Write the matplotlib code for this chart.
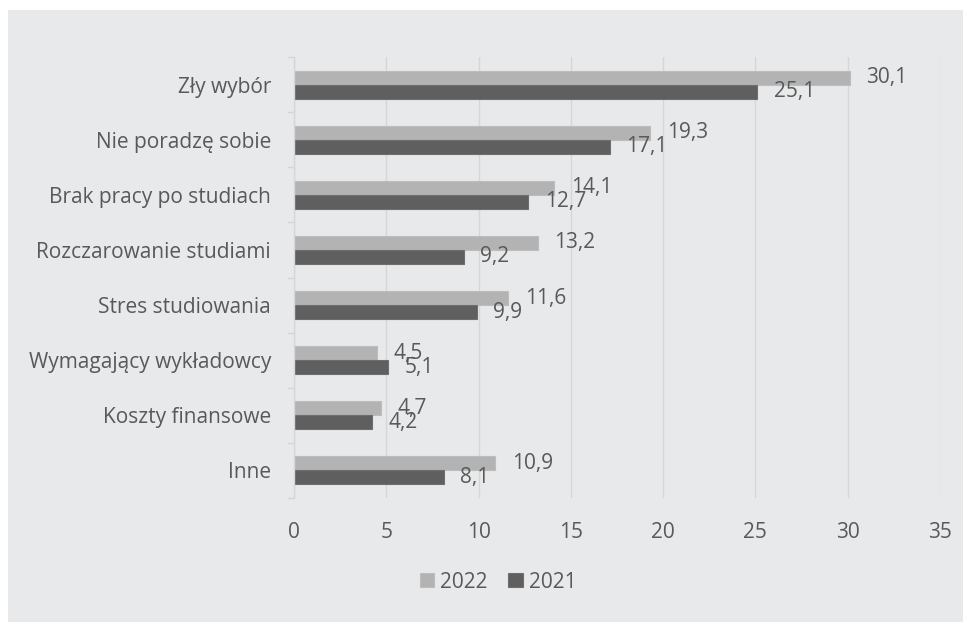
import matplotlib
matplotlib.use("Agg")
import matplotlib.pyplot as plt
from matplotlib.patches import Rectangle
import numpy as np

categories = [
    "Zły wybór",
    "Nie poradzę sobie",
    "Brak pracy po studiach",
    "Rozczarowanie studiami",
    "Stres studiowania",
    "Wymagający wykładowcy",
    "Koszty finansowe",
    "Inne",
]
values_2022 = [30.1, 19.3, 14.1, 13.2, 11.6, 4.5, 4.7, 10.9]
values_2021 = [25.1, 17.1, 12.7, 9.2, 9.9, 5.1, 4.2, 8.1]
series_labels = ["2022", "2021"]
x_ticks = [0, 5, 10, 15, 20, 25, 30, 35]

plt.rcParams["font.family"] = ["Open Sans", "DejaVu Sans"]
TEXT = "#595959"
BG = "#e8e9eb"
GRID = "#d5d6d8"
C22 = "#b3b3b3"
C21 = "#5f5f5f"
FS = 15

fig = plt.figure(figsize=(9.63, 6.22), dpi=100, facecolor="white")
panel = Rectangle((8 / 963, 0), 1 - 8 / 963, 612 / 622,
                  transform=fig.transFigure, facecolor=BG,
                  edgecolor="none", zorder=-10)
fig.add_artist(panel)
ax = fig.add_axes([294 / 963, 1 - 498 / 622, (940 - 294) / 963, (498 - 57) / 622])
ax.set_facecolor(BG)
ax.patch.set_alpha(0)

y = np.arange(len(categories))
h = 0.255
b22 = ax.barh(y - h / 2, values_2022, height=h, color=C22, edgecolor="#bdbdbd",
              linewidth=0.8, label=series_labels[0], zorder=3)
b21 = ax.barh(y + h / 2, values_2021, height=h, color=C21, edgecolor="#6e6e6e",
              linewidth=0.8, label=series_labels[1], zorder=3)

def fmt(v):
    return f"{v:.1f}".replace(".", ",")

for bars, vals in ((b22, values_2022), (b21, values_2021)):
    for rect, v in zip(bars, vals):
        ax.annotate(fmt(v), xy=(v, rect.get_y() + rect.get_height() / 2),
                    xytext=(12, 0), textcoords="offset points",
                    ha="left", va="center", fontsize=FS, color=TEXT, zorder=4)

ax.set_xlim(0, 35)
ax.set_ylim(len(categories) - 0.5, -0.5)
ax.set_xticks(x_ticks)
ax.set_xticklabels([str(t) for t in x_ticks])
ax.set_yticks(y)
ax.set_yticklabels(categories)
ax.set_yticks(np.arange(len(categories) + 1) - 0.5, minor=True)

ax.grid(axis="x", color=GRID, linewidth=1.0, zorder=0)
for s in ("top", "right", "bottom"):
    ax.spines[s].set_visible(False)
ax.spines["left"].set_color(GRID)
ax.spines["left"].set_linewidth(1.0)
ax.spines["left"].set_zorder(3.5)

ax.tick_params(axis="x", length=0, pad=17, labelsize=FS, labelcolor=TEXT)
ax.tick_params(axis="y", which="major", length=0, pad=16.5, labelsize=FS,
               labelcolor=TEXT)
ax.tick_params(axis="y", which="minor", length=5, width=1.0, color=GRID,
               direction="out")

leg = fig.legend(handles=[b22, b21], labels=series_labels, loc="center",
                 bbox_to_anchor=(498 / 963, 1 - 582 / 622), ncol=2,
                 frameon=False, fontsize=FS, handlelength=0.68,
                 handleheight=0.68, handletextpad=0.3, columnspacing=1.0,
                 labelcolor=TEXT)

fig.savefig("out.png", dpi=100, facecolor="white")
